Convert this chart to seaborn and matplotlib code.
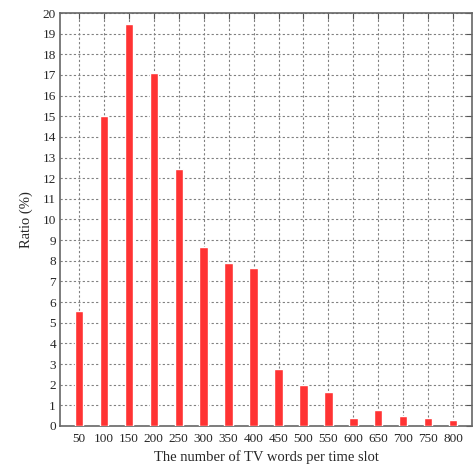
import matplotlib
matplotlib.use("Agg")
import matplotlib.pyplot as plt
import seaborn as sns
import pandas as pd

# word-count bins (x) and ratio in % (y)
word_bins = ["50", "100", "150", "200", "250", "300", "350", "400",
             "450", "500", "550", "600", "650", "700", "750", "800"]
ratio_pct = [5.55, 15.0, 19.45, 17.1, 12.45, 8.65, 7.9, 7.65,
             2.75, 2.0, 1.65, 0.4, 0.75, 0.5, 0.4, 0.3]

df = pd.DataFrame({"words": word_bins, "ratio": ratio_pct})

sns.set_style("white")
plt.rcParams["font.family"] = ["Liberation Serif", "DejaVu Serif"]

fig = plt.figure(figsize=(4.77, 4.65), dpi=100)
ax = fig.add_axes([0.126, 0.084, 0.8635, 0.888])

sns.barplot(data=df, x="words", y="ratio", color="#ff3333", saturation=1,
            width=0.34, ax=ax, zorder=3)

ax.set_xlim(-0.76, len(word_bins) - 0.24)
ax.set_ylim(0, 20)
ax.set_yticks(range(0, 21))

ax.grid(True, color="#808080", linestyle=(0, (2, 2)), linewidth=0.8, zorder=0)
ax.set_axisbelow(True)

ax.tick_params(direction="in", top=True, right=True, length=4,
               color="#555555", labelsize=9.5)
ax.tick_params(axis="x", pad=5)
ax.tick_params(axis="y", pad=3)
for s in ax.spines.values():
    s.set_color("#666666")
    s.set_linewidth(1.2)

ax.set_xlabel("The number of TV words per time slot", fontsize=10.5, labelpad=4)
ax.set_ylabel("Ratio (%)", fontsize=10.5, labelpad=7)

fig.savefig("out.png", dpi=100)
